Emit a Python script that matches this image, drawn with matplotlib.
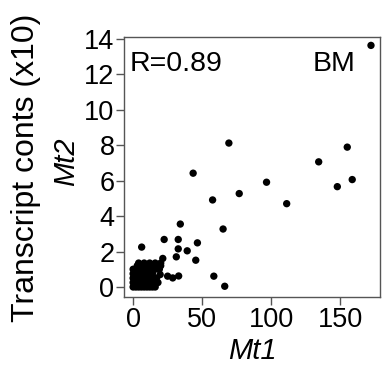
import matplotlib
matplotlib.use('Agg')
import matplotlib.pyplot as plt

plt.rcParams['font.family'] = ['Liberation Sans', 'DejaVu Sans']

# puntos aislados (Mt1, Mt2 x10)
mt1 = [172.4, 69.4, 155.2, 134.5, 43.5, 158.8, 96.7, 148.0, 76.9, 57.6, 111.3,
       34.2, 65.2, 6.2, 22.5, 32.7, 46.6, 32.7, 39.2, 31.3, 21.5, 45.4,
       19.6, 25.0, 28.7, 33.0, 58.5, 66.4]
mt2 = [13.63, 8.12, 7.89, 7.06, 6.42, 6.06, 5.91, 5.66, 5.27, 4.91, 4.70,
       3.55, 3.27, 2.25, 2.68, 2.68, 2.49, 2.15, 2.04, 1.70, 1.61, 1.51,
       0.70, 0.61, 0.51, 0.62, 0.61, 0.04]

# nube cerca del origen
nube_x = [0, 2, 4, 6, 8, 10, 12, 14, 16,
          0, 2, 4, 6, 8, 10, 12, 14, 16, 18,
          0, 2, 4, 6, 8, 10, 12, 14, 17,
          0, 2, 4, 6, 8, 10, 12, 14,
          0, 2, 4, 6, 8, 10, 12, 14, 16, 19,
          3, 6, 9, 12, 15, 18, 20,
          4, 8, 12, 16, 20]
nube_y = [0, 0, 0, 0, 0, 0, 0, 0, 0,
          0.25, 0.25, 0.25, 0.25, 0.25, 0.25, 0.25, 0.25, 0.25, 0.25,
          0.5, 0.5, 0.5, 0.5, 0.5, 0.5, 0.5, 0.5, 0.5,
          0.75, 0.75, 0.75, 0.75, 0.75, 0.75, 0.75, 0.75,
          1.0, 1.0, 1.0, 1.0, 1.0, 1.0, 1.0, 1.0, 1.0, 1.0,
          1.2, 1.2, 1.2, 1.2, 1.2, 1.2, 1.2,
          1.35, 1.35, 1.35, 1.35, 1.35]

fig = plt.figure(figsize=(3.82, 3.67), dpi=100)
ax = fig.add_axes([0.325, 0.191, 0.670, 0.708])

ax.scatter(nube_x, nube_y, s=28, c='black', edgecolors='none')
ax.scatter(mt1, mt2, s=28, c='black', edgecolors='none')

ax.set_xlim(-6.5, 179)
ax.set_ylim(-0.56, 14.1)
ax.set_xticks([0, 50, 100, 150])
ax.set_yticks(range(0, 15, 2))
ax.tick_params(labelsize=19.5, length=6, width=1, pad=1, color='#555555')
for s in ax.spines.values():
    s.set_color('#555555')
    s.set_linewidth(1)

ax.text(0.02, 0.945, 'R=0.89', transform=ax.transAxes, fontsize=20.5, va='top', ha='left')
ax.text(0.905, 0.945, 'BM', transform=ax.transAxes, fontsize=20.5, va='top', ha='right')

fig.text(26/382, 1 - 168/367, 'Transcript conts (x10)', rotation=90, fontsize=23,
         ha='center', va='center')
fig.text(66/382, 1 - 162/367, 'Mt2', rotation=90, fontsize=21, style='italic',
         ha='center', va='center')
fig.text(252/382, 1 - 351/367, 'Mt1', fontsize=21, style='italic',
         ha='center', va='center')

fig.savefig('out.png', dpi=100)
